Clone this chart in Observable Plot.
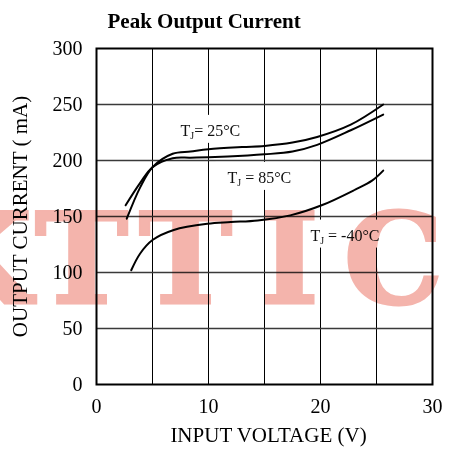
<!DOCTYPE html>
<html><head><meta charset="utf-8">
<script src="https://cdn.jsdelivr.net/npm/d3@7"></script>
<script src="https://cdn.jsdelivr.net/npm/@observablehq/plot@0.6"></script>
<style>body{margin:0;background:#fff}</style>
</head><body><div id="chart"></div>
<script>
// Series: input voltage (V) vs peak output current (mA)
const v25 = [2.7, 3.9, 5.0, 6.8, 8.4, 10, 13, 15, 17.5, 19.7, 22.7, 25.6];
const i25 = [148, 176, 194, 206, 208, 210, 212, 213, 216, 221, 232, 250];
const v85 = [2.6, 3.9, 5.0, 6.8, 8.4, 10, 13.5, 15, 17.5, 19.7, 22.7, 25.6];
const i85 = [160, 180, 194, 202, 202.5, 203, 204.5, 205.5, 208, 214, 227, 241];
const vm40 = [3.1, 3.9, 5.0, 6.9, 9.9, 12.0, 14.4, 17.3, 20.1, 23.1, 24.6, 25.6];
const im40 = [102, 117, 129, 138, 143.5, 145, 146.5, 151, 160, 174, 182, 191];

const labelText = ["T_J= 25°C", "T_J = 85°C", "T_J = -40°C"];
const labelV = [7.5, 11.7, 19.1];
const labelI = [222, 180, 128.5];

const xTicks = [0, 10, 20, 30];
const yTicks = [0, 50, 100, 150, 200, 250, 300];
const gridX = [5, 10, 15, 20, 25];
const gridY = [50, 100, 150, 200, 250];

const title = "Peak Output Current";
const xLabel = "INPUT VOLTAGE (V)";
const yLabel = "OUTPUT CURRENT ( mA)";
const watermark = "KTTIC";

const series = [
  {name: "25", v: v25, i: i25},
  {name: "85", v: v85, i: i85},
  {name: "-40", v: vm40, i: im40}
];
const rows = series.flatMap(s => s.v.map((v, k) => ({series: s.name, v, i: s.i[k]})));
const labels = labelText.map((t, k) => ({t, v: labelV[k], i: labelI[k]}));

const serif = "'Liberation Serif', 'Times New Roman', serif";

const plot = Plot.plot({
  width: 449, height: 455,
  marginLeft: 96, marginRight: 17, marginTop: 48, marginBottom: 71,
  style: {fontFamily: serif, fontSize: "20px", color: "black", background: "white"},
  x: {domain: [0, 30], axis: null},
  y: {domain: [0, 300], axis: null},
  marks: [
    Plot.ruleX(gridX, {stroke: "black", strokeWidth: 1}),
    Plot.ruleY(gridY, {stroke: "#3a3a3a", strokeWidth: 1.4}),
    Plot.text(labels, {x: "v", y: "i", text: "t", textAnchor: "start", lineAnchor: "bottom", fontSize: 16, fill: "#111"}),
    Plot.line(rows, {x: "v", y: "i", z: "series", stroke: "black", strokeWidth: 2, curve: "catmull-rom"}),
    Plot.frame({stroke: "black", strokeWidth: 2}),
    Plot.axisX({ticks: xTicks, tickSize: 0, tickPadding: 14, label: null, fontSize: 20}),
    Plot.axisY({ticks: yTicks, tickSize: 0, tickPadding: 14, label: null, fontSize: 20}),
    Plot.text([title], {text: d => d, frameAnchor: "top-left", textAnchor: "start", lineAnchor: "bottom", dx: 11, dy: -21, fontWeight: "bold", fontSize: 21}),
    Plot.text([xLabel], {text: d => d, frameAnchor: "bottom", lineAnchor: "bottom", dx: 4, dy: 57, fontSize: 21}),
    Plot.text([yLabel], {text: d => d, frameAnchor: "left", rotate: -90, dx: -76, lineAnchor: "middle", textAnchor: "middle", fontSize: 21}),
    Plot.text([watermark], {text: d => d, frameAnchor: "bottom-left", textAnchor: "middle", lineAnchor: "bottom", dx: -119, dy: -82, fontSize: 125, fontFamily: "'DejaVu Serif', serif", fontWeight: "bold", fill: "#f4b4ac", stroke: "#f4b4ac", strokeWidth: 3, strokeLinejoin: "miter", mixBlendMode: "multiply"})
  ]
});
document.getElementById("chart").append(plot);

const svgSel = d3.select(plot);
// watermark: monospaced letter pitch
svgSel.selectAll("text").filter(function() { return this.textContent === watermark; }).each(function() {
  const t = d3.select(this);
  t.text(null);
  watermark.split("").forEach((ch, k) => t.append("tspan").attr("x", k * 104).text(ch));
});
// subscripts and white label boxes
svgSel.selectAll("text").filter(function() { return this.textContent.startsWith("T_J"); }).each(function() {
  const node = this;
  const rest = node.textContent.slice(3);
  const t = d3.select(node);
  t.text(null);
  t.append("tspan").text("T");
  t.append("tspan").attr("font-size", "0.62em").attr("dy", 3).text("J");
  t.append("tspan").attr("dy", -3).text(rest);
  const b = node.getBBox();
  d3.select(node.parentNode).insert("rect", () => node)
    .attr("x", b.x - 12).attr("y", b.y - 7)
    .attr("width", b.width + 34).attr("height", b.height + 9)
    .attr("fill", "white")
    .attr("transform", node.getAttribute("transform"));
});
</script>
</body></html>
